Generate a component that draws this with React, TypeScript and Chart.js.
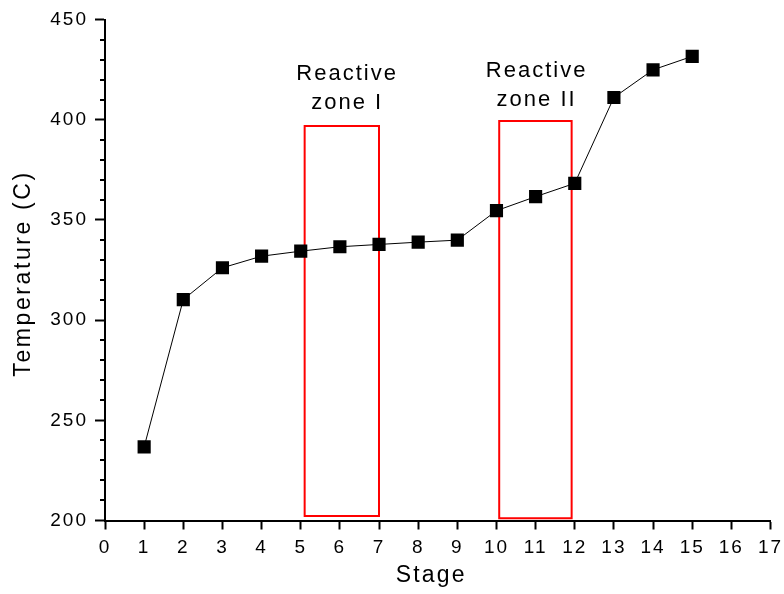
import { useEffect, useRef } from "react";
import { Chart, registerables } from "chart.js";

Chart.register(...registerables);

// ---- data ----
const stages = [1, 2, 3, 4, 5, 6, 7, 8, 9, 10, 11, 12, 13, 14, 15];
const temperatures = [
  236.75, 310.25, 326.1, 331.9, 334.4, 336.6, 337.75, 338.9, 339.9, 354.6,
  361.6, 368.25, 411.1, 424.9, 431.6,
];
const xMin = 0;
const xMax = 17;
const yMin = 200;
const yMax = 450;
const yLabelStep = 50;
const yMinorStep = 10;

const zoneNames = [
  ["Reactive", "zone I"],
  ["Reactive", "zone II"],
];
const zoneStart = [5.1, 10.07];
const zoneEnd = [7.0, 11.92];
const zoneBottom = [202.2, 201.1];
const zoneTop = [396.9, 399.4];
const zoneLabelX = [6.16, 11.0];
const zoneLabelY = [419.9, 421.25];

const xTitle = "Stage";
const yTitle = "Temperature (C)";

const FONT = '"Liberation Sans", Arial, sans-serif';
const SPACING = "2px";

export default function App() {
  const ref = useRef<HTMLCanvasElement | null>(null);

  useEffect(() => {
    if (!ref.current) return;

    const spacingPlugin = {
      id: "spacing",
      beforeLayout(chart: any) {
        chart.ctx.letterSpacing = SPACING;
      },
      beforeDraw(chart: any) {
        chart.ctx.letterSpacing = SPACING;
      },
    };

    const minorTicks = {
      id: "minorTicks",
      afterDraw(chart: any) {
        const ys = chart.scales.y;
        const ctx = chart.ctx;
        const left = chart.chartArea.left;
        ctx.save();
        ctx.strokeStyle = "#000";
        ctx.lineWidth = 2;
        for (let v = yMin; v <= yMax; v += yMinorStep) {
          if (v % yLabelStep === 0) continue;
          const py = Math.round(ys.getPixelForValue(v));
          ctx.beginPath();
          ctx.moveTo(left - 5, py);
          ctx.lineTo(left, py);
          ctx.stroke();
        }
        ctx.restore();
      },
    };

    const textPlugin = {
      id: "texts",
      afterDatasetsDraw(chart: any) {
        const xs = chart.scales.x;
        const ys = chart.scales.y;
        const area = chart.chartArea;
        const ctx = chart.ctx;
        ctx.save();
        ctx.letterSpacing = SPACING;
        ctx.fillStyle = "#000";
        ctx.textAlign = "center";
        ctx.textBaseline = "alphabetic";
        ctx.font = `22px ${FONT}`;
        zoneNames.forEach((lines, i) => {
          const px = xs.getPixelForValue(zoneLabelX[i]);
          const py = ys.getPixelForValue(zoneLabelY[i]);
          lines.forEach((t, j) => {
            ctx.fillText(t, px + 1, py + j * 29);
          });
        });
        // axis titles
        ctx.font = `23px ${FONT}`;
        ctx.letterSpacing = "2.2px";
        ctx.fillText(xTitle, (area.left + area.right) / 2 - 6.5, 582);
        ctx.save();
        ctx.translate(30, (area.top + area.bottom) / 2 + 4.5);
        ctx.rotate(-Math.PI / 2);
        ctx.letterSpacing = "2.6px";
        ctx.fillText(yTitle, 1, 0);
        ctx.restore();
        ctx.restore();
      },
    };

    const zoneSets = zoneNames.map((_, i) => ({
      data: [
        { x: zoneStart[i], y: zoneBottom[i] },
        { x: zoneStart[i], y: zoneTop[i] },
        { x: zoneEnd[i], y: zoneTop[i] },
        { x: zoneEnd[i], y: zoneBottom[i] },
        { x: zoneStart[i], y: zoneBottom[i] },
      ],
      borderColor: "#ff0000",
      borderWidth: 2,
      borderCapStyle: "square",
      borderJoinStyle: "miter",
      pointRadius: 0,
      fill: false,
      tension: 0,
      order: 1,
    }));

    const chart = new Chart(ref.current, {
      type: "line",
      data: {
        datasets: [
          {
            data: stages.map((x, i) => ({ x, y: temperatures[i] })),
            borderColor: "#000",
            borderWidth: 1,
            pointStyle: "rect",
            pointRadius: 9.3,
            pointBackgroundColor: "#000",
            pointBorderColor: "#000",
            pointBorderWidth: 0,
            fill: false,
            tension: 0,
            order: 0,
          },
          ...zoneSets,
        ] as any,
      },
      options: {
        responsive: false,
        animation: false,
        devicePixelRatio: 1,
        layout: { padding: { top: 19.5, right: 13.5, left: 0, bottom: 0 } },
        plugins: {
          legend: { display: false },
          tooltip: { enabled: false },
        },
        scales: {
          x: {
            type: "linear",
            min: xMin,
            max: xMax,
            afterFit: (s: any) => {
              s.height = 73.5;
              s.paddingLeft = 0;
              s.paddingRight = 0;
            },
            ticks: {
              stepSize: 1,
              autoSkip: false,
              maxRotation: 0,
              color: "#000",
              padding: 7,
              font: { family: FONT, size: 19 },
            },
            grid: {
              drawOnChartArea: false,
              drawTicks: true,
              tickLength: 9,
              tickWidth: 2,
              tickColor: "#000",
            },
            border: { display: true, color: "#000", width: 2 },
            title: { display: false },
          },
          y: {
            type: "linear",
            min: yMin,
            max: yMax,
            afterFit: (s: any) => {
              s.width = 105;
              s.paddingTop = 0;
              s.paddingBottom = 0;
            },
            ticks: {
              stepSize: yMinorStep,
              autoSkip: false,
              color: "#000",
              padding: 7,
              font: { family: FONT, size: 19 },
              callback: (v: any) => (Number(v) % yLabelStep === 0 ? String(v) : ""),
            },
            grid: {
              drawOnChartArea: false,
              drawTicks: true,
              tickLength: 10,
              tickWidth: 2,
              tickColor: (c: any) =>
                c.tick && c.tick.value % yLabelStep === 0 ? "#000" : "rgba(0,0,0,0)",
            },
            border: { display: true, color: "#000", width: 2 },
            title: { display: false },
          },
        },
      } as any,
      plugins: [spacingPlugin, minorTicks, textPlugin],
    });

    return () => chart.destroy();
  }, []);

  return (
    <div style={{ position: "fixed", left: 0, top: 0, width: 784, height: 594, background: "#fff" }}>
      <canvas ref={ref} width={784} height={594} style={{ display: "block" }} />
    </div>
  );
}
